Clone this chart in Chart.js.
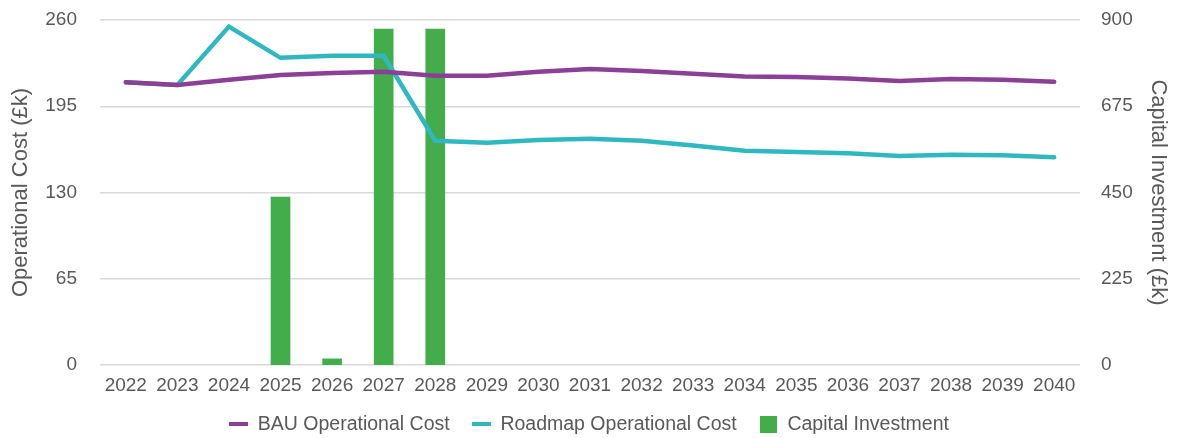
<!DOCTYPE html>
<html>
<head>
<meta charset="utf-8">
<script src="https://cdn.jsdelivr.net/npm/chart.js@4/dist/chart.umd.min.js"></script>
<style>
  html, body { margin: 0; padding: 0; background: #fff; }
  #wrap { width: 1178px; height: 438px; }
</style>
</head>
<body>
<div id="wrap"><canvas id="chart"></canvas></div>
<script>
const YEARS = ['2022', '2023', '2024', '2025', '2026', '2027', '2028', '2029', '2030', '2031',
    '2032', '2033', '2034', '2035', '2036', '2037', '2038', '2039', '2040'];

const BAU_COST = [213, 211, 215, 218.5, 220, 221, 218, 218, 221, 223,
    221.5, 219.5, 217.5, 217, 216, 214, 215.5, 215, 213.5];

const ROADMAP_COST = [213, 211, 255, 231.5, 233, 233, 169, 167.5, 169.5, 170.5,
    169, 165.5, 161.5, 160.5, 159.5, 157.5, 158.5, 158, 156.5];

// null = no investment that year
const CAPITAL = [null, null, null, 438, 16, 876, 876, null, null, null,
    null, null, null, null, null, null, null, null, null];

const COST_TICKS = [0, 65, 130, 195, 260];
const CAPITAL_TICKS = [0, 225, 450, 675, 900];

const PURPLE = '#8c3f96';
const TEAL = '#30b8c0';
const GREEN = '#43ad4b';
const TEXT = '#595959';
const GRID = '#d9d9d9';

// small canvases used as legend swatches
function swatch(w, h, color) {
    const c = document.createElement('canvas');
    c.width = w;
    c.height = h;
    const ctx = c.getContext('2d');
    ctx.fillStyle = color;
    ctx.fillRect(0, 0, w, h);
    return c;
}
const SWATCHES = [swatch(19, 4, PURPLE), swatch(19, 4, TEAL), swatch(17, 17, GREEN)];

Chart.defaults.font.family = '"Liberation Sans", Arial, sans-serif';
Chart.defaults.color = TEXT;

// keep the plot area top/bottom independent of tick label padding
function fixVertical(width) {
    return function(axis) {
        axis.width = width;
        axis.paddingTop = 0;
        axis.paddingBottom = 0;
    };
}

const CTX = document.getElementById('chart').getContext('2d');
new Chart(CTX, {
    type: 'bar',
    data: {
        labels: YEARS,
        datasets: [
            {
                type: 'line',
                label: 'BAU Operational Cost',
                data: BAU_COST,
                borderColor: PURPLE,
                backgroundColor: PURPLE,
                borderWidth: 4.5,
                borderCapStyle: 'round',
                pointRadius: 0,
                tension: 0,
                yAxisID: 'y',
                order: 0
            },
            {
                type: 'line',
                label: 'Roadmap Operational Cost',
                data: ROADMAP_COST,
                borderColor: TEAL,
                backgroundColor: TEAL,
                borderWidth: 4.5,
                borderCapStyle: 'round',
                pointRadius: 0,
                tension: 0,
                yAxisID: 'y',
                order: 1
            },
            {
                label: 'Capital Investment',
                data: CAPITAL,
                backgroundColor: GREEN,
                barThickness: 19,
                yAxisID: 'y1',
                order: 2
            }
        ]
    },
    options: {
        responsive: true,
        maintainAspectRatio: false,
        animation: false,
        layout: { padding: { top: 20, bottom: -6 } },
        plugins: {
            tooltip: { enabled: false },
            legend: {
                position: 'bottom',
                labels: {
                    usePointStyle: true,
                    pointStyleWidth: 19,
                    padding: 22,
                    font: { size: 19.5 },
                    color: TEXT,
                    generateLabels(chart) {
                        const items = Chart.defaults.plugins.legend.labels.generateLabels(chart);
                        items.forEach(function(item) {
                            item.pointStyle = SWATCHES[item.datasetIndex];
                        });
                        return items;
                    }
                }
            }
        },
        scales: {
            x: {
                afterFit(axis) { axis.height = 27.5; },
                grid: { display: false, drawTicks: false },
                border: { display: false },
                ticks: { font: { size: 19 }, color: TEXT, maxRotation: 0, padding: 9 }
            },
            y: {
                position: 'left',
                min: 0,
                max: 260,
                afterBuildTicks(axis) {
                    axis.ticks = COST_TICKS.map(v => ({ value: v }));
                },
                afterFit: fixVertical(100),
                grid: { color: GRID, lineWidth: 1.5, drawTicks: false },
                border: { display: false },
                ticks: { font: { size: 19 }, color: TEXT, padding: 23 },
                title: {
                    display: true,
                    text: 'Operational Cost (£k)',
                    font: { size: 22 },
                    color: TEXT,
                    padding: { top: 8, bottom: 0 }
                }
            },
            y1: {
                position: 'right',
                min: 0,
                max: 900,
                afterBuildTicks(axis) {
                    axis.ticks = CAPITAL_TICKS.map(v => ({ value: v }));
                },
                afterFit: fixVertical(98),
                grid: { display: false, drawTicks: false },
                border: { display: false },
                ticks: { font: { size: 19 }, color: TEXT, padding: 21 },
                title: {
                    display: true,
                    text: 'Capital Investment (£k)',
                    font: { size: 22 },
                    color: TEXT,
                    padding: { top: 7, bottom: 0 }
                }
            }
        }
    }
});
</script>
</body>
</html>
